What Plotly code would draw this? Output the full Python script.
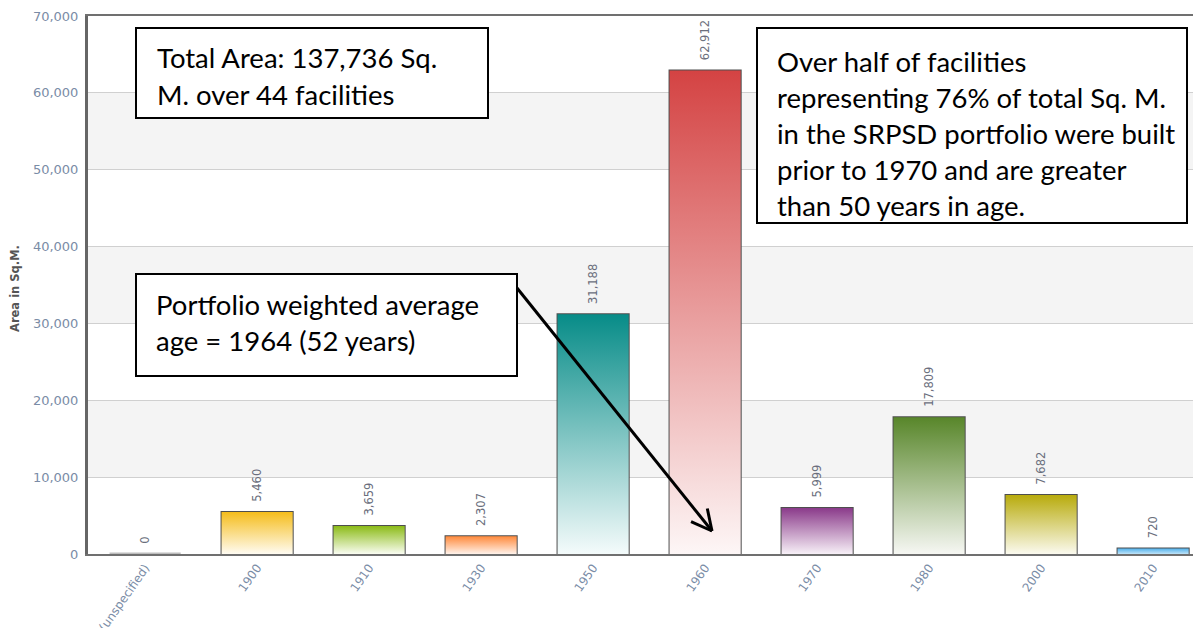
import math
import plotly.graph_objects as go

# ---------------- data ----------------
categories = ["(unspecified)", "1900", "1910", "1930", "1950", "1960", "1970", "1980", "2000", "2010"]
areas = [0, 5460, 3659, 2307, 31188, 62912, 5999, 17809, 7682, 720]
top_colors = ["#c8c8c8", "#f5bd1c", "#8bbb17", "#ff8a3c", "#078c88", "#d44343",
              "#8a3a8a", "#58862a", "#b8ab0c", "#52b2ec"]
bottom_colors = ["#e0e0e0", "#fffcf2", "#fafdf2", "#fff2ea", "#f4fbfb", "#fdf6f6",
                 "#f7f0f7", "#f6f7f3", "#fbfaef", "#bfe3f8"]
y_ticks = [0, 10000, 20000, 30000, 40000, 50000, 60000, 70000]
band_ranges = [(10000, 20000), (30000, 40000), (50000, 60000)]

box1_lines = ["Total Area: 137,736 Sq.", "M. over 44 facilities"]
box2_lines = ["Portfolio weighted average", "age = 1964 (52 years)"]
box3_lines = ["Over half of facilities", "representing 76% of total Sq. M.",
              "in the SRPSD portfolio were built", "prior to 1970 and are greater",
              "than 50 years in age."]

# ---------------- layout geometry ----------------
# the page body has an 8px margin, so the figure starts at (8, 8) in the window
OFF = 8
W, H = 1201 - OFF, 628 - OFF
ML, MT = 88 - OFF, 16 - OFF
MB = H - (554 - OFF)
MR = 0
PW, PH = W - ML - MR, H - MT - MB
BAR_W = 0.635


def px(xp):  # window pixel -> paper x
    return (xp - OFF - ML) / PW


def py(yp):  # window pixel -> paper y
    return (H - MB - (yp - OFF)) / PH


xs = list(range(len(categories)))

fig = go.Figure()

# gradient fills for the bars
for i, v in enumerate(areas):
    if v <= 0:
        continue
    fig.add_trace(go.Scatter(
        x=[i - BAR_W / 2, i - BAR_W / 2, i + BAR_W / 2, i + BAR_W / 2, i - BAR_W / 2],
        y=[0, v, v, 0, 0],
        mode="lines", line=dict(width=0), fill="toself",
        fillgradient=dict(type="vertical", start=0, stop=v,
                          colorscale=[[0, bottom_colors[i]], [1, top_colors[i]]]),
        hoverinfo="skip", showlegend=False,
    ))

# bar outlines + value labels
line_cols = ["#bdbdbd" if v == 0 else "#4e4e4e" for v in areas]
line_ws = [3 if v == 0 else 2 for v in areas]
fig.add_trace(go.Bar(
    x=xs, y=areas, width=BAR_W,
    marker=dict(color="rgba(0,0,0,0)", line=dict(color=line_cols, width=line_ws)),
    text=["\u00a0\u00a0" + f"{v:,}" for v in areas], textposition="outside", textangle=-90,
    textfont=dict(family="DejaVu Sans", size=11.5, color="#6a6e7c"),
    constraintext="none", cliponaxis=False, showlegend=False,
))

shapes = []
for lo, hi in band_ranges:
    shapes.append(dict(type="rect", xref="paper", yref="y", x0=0, x1=1, y0=lo, y1=hi,
                       fillcolor="#f4f4f4", line=dict(width=0), layer="below"))


def box(x0, y0, x1, y1):
    return dict(type="rect", xref="paper", yref="paper", x0=px(x0), x1=px(x1),
                y0=py(y1), y1=py(y0), fillcolor="white",
                line=dict(color="black", width=2), layer="above")


shapes += [box(136, 28, 488, 118), box(136, 274, 517, 376), box(757, 28, 1187, 223)]

# arrow (shaft + open V head), window-pixel geometry
sx, sy, tx, ty = 517, 288, 712, 531
shapes.append(dict(type="line", xref="paper", yref="paper", x0=px(sx), y0=py(sy),
                   x1=px(tx), y1=py(ty), line=dict(color="black", width=3), layer="above"))
ang = math.atan2(sy - ty, sx - tx)
for d in (-0.47, 0.47):
    hx = tx + 23 * math.cos(ang + d)
    hy = ty + 23 * math.sin(ang + d)
    shapes.append(dict(type="line", xref="paper", yref="paper", x0=px(tx), y0=py(ty),
                       x1=px(hx), y1=py(hy), line=dict(color="black", width=3), layer="above"))

annotations = []
FS = 27.5


def add_lines(lines, x0, base0, step):
    for k, t in enumerate(lines):
        b = base0 + k * step
        annotations.append(dict(text=t, xref="paper", yref="paper", x=px(x0),
                                y=py(b - 0.34 * FS), xanchor="left", yanchor="middle",
                                showarrow=False, align="left",
                                font=dict(family="Lato", size=FS, color="black")))


add_lines(box1_lines, 155, 67, 37)
add_lines(box2_lines, 154, 314, 36)
add_lines(box3_lines, 775, 71, 36)

annotations.append(dict(text="<b>Area in Sq.M.</b>", xref="paper", yref="paper",
                        x=px(15), y=py(289), textangle=-90, showarrow=False,
                        xanchor="center", yanchor="middle",
                        font=dict(family="DejaVu Sans", size=11.5, color="#555555")))

fig.update_layout(
    width=W, height=H, margin=dict(l=ML, r=MR, t=MT, b=MB, autoexpand=False),
    plot_bgcolor="white", paper_bgcolor="white",
    shapes=shapes, annotations=annotations, bargap=0.2,
    xaxis=dict(range=[-0.51, (PW / 112.0) - 0.51], tickmode="array", tickvals=xs,
               ticktext=categories, tickangle=-55, showgrid=False, zeroline=False,
               showline=True, linecolor="#707070", linewidth=2, mirror=True,
               ticks="", automargin=False,
               tickfont=dict(family="DejaVu Sans", size=12, color="#7a8ca6")),
    yaxis=dict(range=[0, 70000], tickmode="array", tickvals=y_ticks, tickformat=",d",
               showgrid=True, gridcolor="#d0d0d0", gridwidth=1, zeroline=False,
               showline=True, linecolor="#666666", linewidth=3, ticks="",
               automargin=False, ticklabelstandoff=4,
               tickfont=dict(family="DejaVu Sans", size=13, color="#7a8ca6")),
)

fig.write_html("out.html")
